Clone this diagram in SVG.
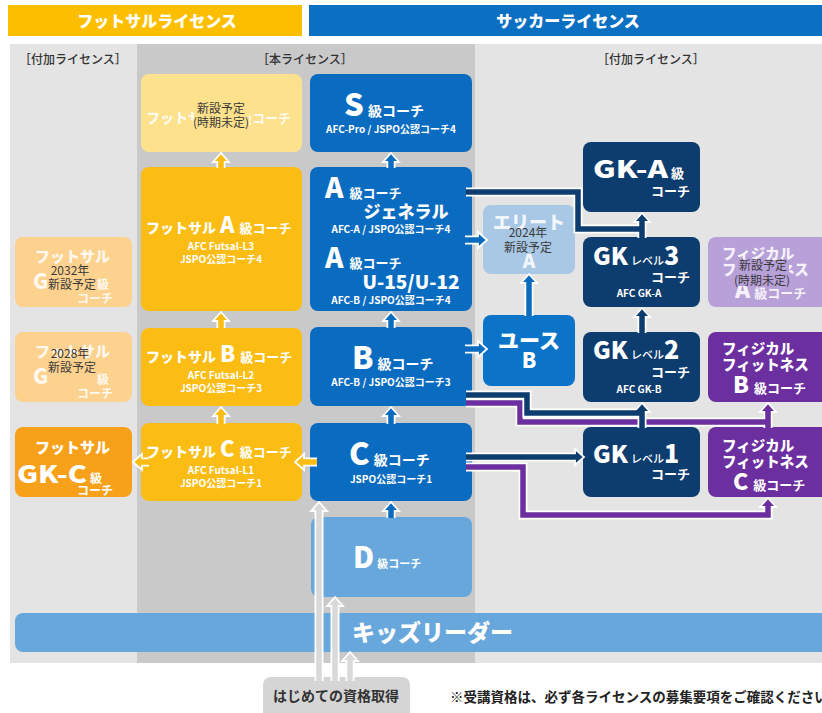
<svg xmlns="http://www.w3.org/2000/svg" width="822" height="713" viewBox="0 0 822 713">
<style>
text { font-family: "Noto Sans CJK JP", "Noto Sans", sans-serif; font-weight: 700; }
.w { fill: #fff; }
.fw { fill: #fff; opacity: 0.85; }
.big { font-weight: 900; }
.ov { fill: #3a3a3a; font-weight: 400; font-size: 12px; }
.sub { font-size: 10px; fill: #fff; }
.hdr { font-size: 16px; fill: #fff; font-weight: 900; }
.lbl { fill: #333; font-size: 12px; font-weight: 500; }
.under { fill: none; stroke: #fff; stroke-width: 9; }
.ly { fill: none; stroke: #fbbc13; stroke-width: 5.5; }
.lb { fill: none; stroke: #0a6cc1; stroke-width: 5.5; }
.ln { fill: none; stroke: #0d3c6f; stroke-width: 5.5; }
.lp { fill: none; stroke: #6b2f9f; stroke-width: 5.5; }
.lg { fill: none; stroke: #d9d9d9; stroke-width: 5.5; }
.hy { fill: #fbbc13; stroke: #fff; stroke-width: 1.8; }
.hb { fill: #0a6cc1; stroke: #fff; stroke-width: 1.8; }
.hn { fill: #0d3c6f; stroke: #fff; stroke-width: 1.8; }
.hp { fill: #6b2f9f; stroke: #fff; stroke-width: 1.8; }
.hg { fill: #d9d9d9; stroke: #fff; stroke-width: 1.8; }
</style>

<!-- headers -->
<rect x="8" y="5" width="294" height="31" fill="#fcbf00"/>
<text class="hdr" x="157" y="27" text-anchor="middle">フットサルライセンス</text>
<rect x="309" y="5" width="513" height="31" fill="#0b6fc2"/>
<text class="hdr" x="568" y="27" text-anchor="middle">サッカーライセンス</text>

<!-- background panels -->
<rect x="10" y="44" width="812" height="619" fill="#e4e4e4"/>
<rect x="137" y="44" width="338" height="619" fill="#c9c9c9"/>
<text class="lbl" x="73" y="64" text-anchor="middle">［付加ライセンス］</text>
<text class="lbl" x="305" y="64" text-anchor="middle">［本ライセンス］</text>
<text class="lbl" x="651" y="64" text-anchor="middle">［付加ライセンス］</text>

<!-- futsal nodes -->
<g id="n-futsal-s">
<rect x="141" y="74" width="161" height="78" rx="8" fill="#fde18c"/>
<text x="146" y="123" class="fw"><tspan font-size="14" class="big">フットサル</tspan><tspan class="big" font-size="22" dx="4">S</tspan><tspan font-size="13" dx="5">級コーチ</tspan></text>
<rect x="194" y="100" width="55" height="29" fill="#fde18c"/>
<text class="ov" x="221" y="113" text-anchor="middle">新設予定</text>
<text class="ov" x="221" y="127" text-anchor="middle">(時期未定)</text>
</g>
<g id="n-futsal-a">
<rect x="141" y="167" width="161" height="144" rx="8" fill="#fbbc13"/>
<text x="146" y="233" class="w"><tspan font-size="14" class="big">フットサル</tspan><tspan class="big" font-size="22" dx="4">A</tspan><tspan font-size="13" dx="5">級コーチ</tspan></text>
<text class="sub" x="221" y="250" text-anchor="middle" font-weight="500">AFC Futsal-L3</text>
<text class="sub" x="221" y="263" text-anchor="middle" font-weight="500">JSPO公認コーチ4</text>
</g>
<g id="n-futsal-b">
<rect x="141" y="328" width="161" height="78" rx="8" fill="#fbbc13"/>
<text x="146" y="362" class="w"><tspan font-size="14" class="big">フットサル</tspan><tspan class="big" font-size="22" dx="4">B</tspan><tspan font-size="13" dx="5">級コーチ</tspan></text>
<text class="sub" x="221" y="379" text-anchor="middle" font-weight="500">AFC Futsal-L2</text>
<text class="sub" x="221" y="392" text-anchor="middle" font-weight="500">JSPO公認コーチ3</text>
</g>
<g id="n-futsal-c">
<rect x="141" y="423" width="161" height="78" rx="8" fill="#fbbc13"/>
<text x="146" y="457" class="w"><tspan font-size="14" class="big">フットサル</tspan><tspan class="big" font-size="22" dx="4">C</tspan><tspan font-size="13" dx="5">級コーチ</tspan></text>
<text class="sub" x="221" y="474" text-anchor="middle" font-weight="500">AFC Futsal-L1</text>
<text class="sub" x="221" y="487" text-anchor="middle" font-weight="500">JSPO公認コーチ1</text>
</g>

<!-- futsal additional -->
<g id="n-futsal-gka">
<rect x="15" y="237" width="117" height="70" rx="8" fill="#fdd28e"/>
<text class="fw big" x="35" y="262" font-size="15">フットサル</text>
<text class="fw big" x="33" y="289" font-size="21">GK-A</text>
<text class="fw" x="97" y="289" font-size="12">級</text>
<text class="fw" x="113" y="303" font-size="12" text-anchor="end">コーチ</text>
<rect x="50" y="264" width="45" height="28" fill="#fdd28e"/>
<text class="ov" x="70" y="275" text-anchor="middle">2032年</text>
<text class="ov" x="72" y="289" text-anchor="middle">新設予定</text>
</g>
<g id="n-futsal-gkb">
<rect x="15" y="332" width="117" height="70" rx="8" fill="#fdd28e"/>
<text class="fw big" x="35" y="357" font-size="15">フットサル</text>
<text class="fw big" x="33" y="384" font-size="21">GK-B</text>
<text class="fw" x="97" y="384" font-size="12">級</text>
<text class="fw" x="113" y="398" font-size="12" text-anchor="end">コーチ</text>
<rect x="50" y="361" width="45" height="26" fill="#fdd28e"/>
<text class="ov" x="70" y="358" text-anchor="middle">2028年</text>
<text class="ov" x="72" y="372" text-anchor="middle">新設予定</text>
</g>
<g id="n-futsal-gkc">
<rect x="15" y="427" width="117" height="70" rx="8" fill="#f7a11a"/>
<text class="w big" x="35" y="453" font-size="15">フットサル</text>
<text class="w big" x="17" y="483" font-size="24" textLength="70" lengthAdjust="spacingAndGlyphs">GK-C</text>
<text class="w" x="90" y="483" font-size="12">級</text>
<text class="w" x="113" y="495" font-size="12" text-anchor="end">コーチ</text>
</g>

<!-- soccer main -->
<g id="n-s">
<rect x="310" y="74" width="162" height="78" rx="8" fill="#0a6cc1"/>
<text x="384" y="116" text-anchor="middle" class="w"><tspan class="big" font-size="31">S</tspan><tspan font-size="14" dx="4">級コーチ</tspan></text>
<text class="sub" x="391" y="133" text-anchor="middle">AFC-Pro / JSPO公認コーチ4</text>
</g>
<g id="n-a">
<rect x="310" y="167" width="162" height="144" rx="8" fill="#0a6cc1"/>
<text class="w" x="325" y="198"><tspan class="big" font-size="28">A</tspan><tspan font-size="13" dx="6">級コーチ</tspan></text>
<text class="w big" x="406" y="218" font-size="17" text-anchor="middle">ジェネラル</text>
<text class="sub" x="391" y="233" text-anchor="middle">AFC-A / JSPO公認コーチ4</text>
<text class="w" x="325" y="268"><tspan class="big" font-size="28">A</tspan><tspan font-size="13" dx="6">級コーチ</tspan></text>
<text class="w big" x="411" y="289" font-size="19" text-anchor="middle">U-15/U-12</text>
<text class="sub" x="391" y="304" text-anchor="middle">AFC-B / JSPO公認コーチ4</text>
</g>
<g id="n-b">
<rect x="310" y="327" width="162" height="79" rx="8" fill="#0a6cc1"/>
<text class="w" x="352" y="369"><tspan class="big" font-size="31">B</tspan><tspan font-size="14" dx="4">級コーチ</tspan></text>
<text class="sub" x="391" y="386" text-anchor="middle">AFC-B / JSPO公認コーチ3</text>
</g>
<g id="n-c">
<rect x="310" y="423" width="162" height="78" rx="8" fill="#0a6cc1"/>
<text class="w" x="349" y="465"><tspan class="big" font-size="31">C</tspan><tspan font-size="14" dx="4">級コーチ</tspan></text>
<text class="sub" x="391" y="483" text-anchor="middle">JSPO公認コーチ1</text>
</g>
<g id="n-d">
<rect x="311" y="517" width="161" height="80" rx="8" fill="#67a7db"/>
<text class="w" x="353" y="568"><tspan class="big" font-size="29">D</tspan><tspan font-size="11" dx="3">級コーチ</tspan></text>
</g>
<g id="n-kids">
<rect x="15" y="613" width="815" height="39" rx="8" fill="#67a7db"/>
<text class="w big" x="352" y="641" font-size="23">キッズリーダー</text>
</g>

<!-- soccer additional -->
<g id="n-elite-a">
<rect x="483" y="205" width="92" height="69" rx="8" fill="#a9c8e5"/>
<text class="fw big" x="529" y="229" font-size="18" text-anchor="middle">エリート</text>
<text class="fw big" x="529" y="249" font-size="18" text-anchor="middle">ユース</text>
<text class="fw big" x="529" y="268" font-size="19" text-anchor="middle">A</text>
<rect x="502" y="231" width="52" height="23" fill="#a9c8e5"/>
<text class="ov" x="528" y="237" text-anchor="middle">2024年</text>
<text class="ov" x="528" y="252" text-anchor="middle">新設予定</text>
</g>
<g id="n-youth-b">
<rect x="483" y="315" width="92" height="71" rx="8" fill="#0c74c8"/>
<text class="w big" x="529" y="348" font-size="21" text-anchor="middle">ユース</text>
<text class="w big" x="529" y="368" font-size="21" text-anchor="middle">B</text>
</g>
<g id="n-gk-a">
<rect x="583" y="142" width="117" height="70" rx="8" fill="#0d3c6f"/>
<text class="w big" x="593" y="178" font-size="24" textLength="75" lengthAdjust="spacingAndGlyphs">GK-A</text>
<text class="w" x="671" y="178" font-size="13">級</text>
<text class="w" x="690" y="196" font-size="13" text-anchor="end">コーチ</text>
</g>
<g id="n-gk3">
<rect x="583" y="237" width="117" height="70" rx="8" fill="#0d3c6f"/>
<text class="w big" x="593" y="265" font-size="24" textLength="35" lengthAdjust="spacingAndGlyphs">GK</text>
<text class="w" x="631" y="265"><tspan font-size="11" font-weight="500">レベル</tspan><tspan class="big" font-size="25" dx="0">3</tspan></text>
<text class="w" x="690" y="282" font-size="13" text-anchor="end">コーチ</text>
<text class="sub" x="639" y="297" text-anchor="middle">AFC GK-A</text>
</g>
<g id="n-gk2">
<rect x="583" y="332" width="117" height="70" rx="8" fill="#0d3c6f"/>
<text class="w big" x="593" y="359" font-size="24" textLength="35" lengthAdjust="spacingAndGlyphs">GK</text>
<text class="w" x="631" y="359"><tspan font-size="11" font-weight="500">レベル</tspan><tspan class="big" font-size="25" dx="0">2</tspan></text>
<text class="w" x="690" y="377" font-size="13" text-anchor="end">コーチ</text>
<text class="sub" x="639" y="393" text-anchor="middle">AFC GK-B</text>
</g>
<g id="n-gk1">
<rect x="583" y="427" width="117" height="70" rx="8" fill="#0d3c6f"/>
<text class="w big" x="593" y="463" font-size="24" textLength="35" lengthAdjust="spacingAndGlyphs">GK</text>
<text class="w" x="631" y="463"><tspan font-size="11" font-weight="500">レベル</tspan><tspan class="big" font-size="25" dx="0">1</tspan></text>
<text class="w" x="690" y="479" font-size="13" text-anchor="end">コーチ</text>
</g>
<g id="n-phys-a">
<rect x="708" y="237" width="122" height="70" rx="8" fill="#b8a1d9"/>
<text class="fw big" x="722" y="259" font-size="14.5">フィジカル</text>
<text class="fw big" x="722" y="275" font-size="14.5">フィットネス</text>
<text class="fw" x="735" y="298"><tspan class="big" font-size="23">A</tspan><tspan font-size="13" dx="4">級コーチ</tspan></text>
<rect x="737" y="260" width="52" height="26" fill="#b8a1d9"/>
<text class="ov" x="763" y="270" text-anchor="middle">新設予定</text>
<text class="ov" x="762" y="285" text-anchor="middle">(時期未定)</text>
</g>
<g id="n-phys-b">
<rect x="708" y="332" width="122" height="70" rx="8" fill="#6b2f9f"/>
<text class="w big" x="722" y="354" font-size="14.5">フィジカル</text>
<text class="w big" x="722" y="370" font-size="14.5">フィットネス</text>
<text class="w" x="733" y="393"><tspan class="big" font-size="23">B</tspan><tspan font-size="13" dx="5">級コーチ</tspan></text>
</g>
<g id="n-phys-c">
<rect x="708" y="427" width="122" height="70" rx="8" fill="#6b2f9f"/>
<text class="w big" x="722" y="451" font-size="14.5">フィジカル</text>
<text class="w big" x="722" y="467" font-size="14.5">フィットネス</text>
<text class="w" x="733" y="490"><tspan class="big" font-size="23">C</tspan><tspan font-size="13" dx="5">級コーチ</tspan></text>
</g>

<g id="n-first">
<rect x="263" y="677" width="147" height="46" rx="8" fill="#d5d5d5"/>
<text x="336" y="701" font-size="14" fill="#333" font-weight="500" text-anchor="middle">はじめての資格取得</text>
</g>
<text x="450" y="702" font-size="13.5" fill="#222" font-weight="500">※受講資格は、必ず各ライセンスの募集要項をご確認ください</text>

<!-- connectors -->
<g id="connectors">
 <!-- yellow -->
 <g>
  <path class="under" d="M221,168V161 M221,328V321 M221,424V417 M317,462H304 M149,462H142"/>
  <path class="hy" d="M213,162L221,153L229,162Z M213,321L221,312L229,321Z M213,416L221,407L229,416Z M304,454L295,462L304,470Z M142,454L133,462L142,470Z"/>
  <path class="ly" d="M221,168V160 M221,328V320 M221,424V415 M317,462H303 M149,462H141"/>
 </g>
 <!-- blue -->
 <g>
  <path class="under" d="M391,168V161 M391,328V321 M391,424V417 M391,518V511 M465,240H479 M465,349H479 M529,316V283"/>
  <path class="hb" d="M383,162L391,153L399,162Z M383,321L391,312L399,321Z M383,416L391,407L399,416Z M383,511L391,502L399,511Z M478,232L487,240L478,248Z M478,341L487,349L478,357Z M521,283L529,274L537,283Z"/>
  <path class="lb" d="M391,168V160 M391,328V320 M391,424V415 M391,518V510 M465,240H480 M465,349H480 M529,316V282"/>
 </g>
 <!-- purple -->
 <g>
  <path class="under" d="M466,403H520V422H768 M768,428V412 M466,467H523V515H768V507"/>
  <path class="hp" d="M760,412L768,403L776,412Z M760,507L768,498L776,507Z"/>
  <path class="lp" d="M466,403H520V422H768 M768,428V411 M466,467H523V515H768V506"/>
 </g>
 <!-- navy -->
 <g>
  <path class="under" d="M466,192H578V229H642 M642,238V222 M642,333V317 M642,428V412 M466,395H527V413H642 M466,457H575"/>
  <path class="hn" d="M634,222L642,213L650,222Z M634,317L642,308L650,317Z M634,412L642,403L650,412Z M575,449L584,457L575,465Z"/>
  <path class="ln" d="M466,192H578V229H642 M642,238V221 M642,333V316 M642,428V411 M466,395H527V413H642 M466,457H576"/>
 </g>
 <!-- grey (first qualification) -->
 <g>
  <path class="under" d="M319,681V511 M335,681V606 M350,681V661"/>
  <path class="hg" d="M311,511L319,502L327,511Z M327,606L335,597L343,606Z M342,661L350,652L358,661Z"/>
  <path class="lg" d="M319,681V510 M335,681V605 M350,681V660"/>
 </g>
</g>
</svg>
